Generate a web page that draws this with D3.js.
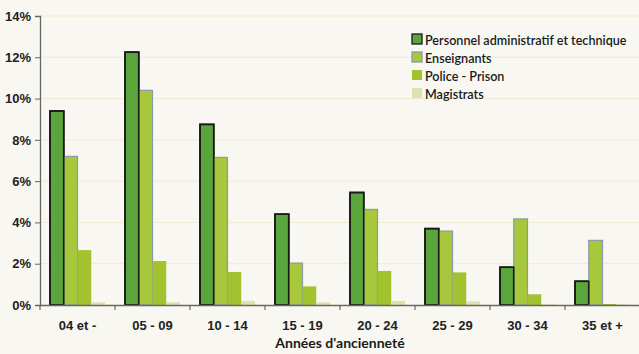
<!DOCTYPE html>
<html>
<head>
<meta charset="utf-8">
<script src="https://cdn.jsdelivr.net/npm/d3@7"></script>
<style>
  body { margin: 0; background: #f8f7f1; }
  svg { display: block; font-family: Lato, "Liberation Sans", sans-serif; }
</style>
</head>
<body>
<svg id="chart" width="639" height="354"></svg>
<script>
// categories (x axis) and series
const categories = ["04 et -", "05 - 09", "10 - 14", "15 - 19", "20 - 24", "25 - 29", "30 - 34", "35 et +"];
const seriesNames = ["Personnel administratif et technique", "Enseignants", "Police - Prison", "Magistrats"];
const personnelAdm = [9.4, 12.25, 8.75, 4.4, 5.45, 3.7, 1.83, 1.15];
const enseignants = [7.2, 10.4, 7.15, 2.03, 4.63, 3.58, 4.17, 3.13];
const policePrison = [2.66, 2.13, 1.6, 0.9, 1.65, 1.58, 0.52, 0.05];
const magistrats = [0.13, 0.13, 0.2, 0.13, 0.2, 0.18, 0.03, 0.03];
const yTicks = [0, 2, 4, 6, 8, 10, 12, 14];

const allSeries = [personnelAdm, enseignants, policePrison, magistrats];
const fills = ["#5aa63c", "#a6c83a", "#a2c230", "#dde3ae"];
const strokes = ["#1a1a1a", "#8a9aa8", "none", "none"];

const svg = d3.select("#chart");
const margin = { top: 16, right: -1, bottom: 49, left: 40 };
const width = 639, height = 354;

const x = d3.scaleBand().domain(categories).range([margin.left, width - margin.right]).paddingInner(0).paddingOuter(0);
const xs = d3.scaleBand().domain(d3.range(4)).range([10, x.bandwidth() - 10]);
const y = d3.scaleLinear().domain([0, 14]).range([height - margin.bottom, margin.top]);

// faint grid
svg.append("g")
  .selectAll("line")
  .data(yTicks.filter(d => d > 0))
  .join("line")
  .attr("x1", margin.left).attr("x2", width)
  .attr("y1", d => y(d)).attr("y2", d => y(d))
  .attr("stroke", "#eeebd0")
  .attr("stroke-width", 1);

// bars
const groups = svg.append("g")
  .selectAll("g")
  .data(categories)
  .join("g")
  .attr("transform", d => `translate(${x(d)},0)`);

groups.selectAll("rect")
  .data((c, i) => allSeries.map((s, k) => ({ k, v: s[i] })))
  .join("rect")
  .attr("x", d => xs(d.k))
  .attr("y", d => y(d.v))
  .attr("width", xs.bandwidth())
  .attr("height", d => y(0) - y(d.v))
  .attr("fill", d => fills[d.k])
  .attr("stroke", d => strokes[d.k])
  .attr("stroke-width", d => d.k === 0 ? 1.6 : 1.2);

// redraw personnel outline on top so the black edge shows
groups.selectAll("rect.pat")
  .data((c, i) => [{ v: personnelAdm[i] }])
  .join("rect")
  .attr("class", "pat")
  .attr("x", xs(0))
  .attr("y", d => y(d.v))
  .attr("width", xs.bandwidth())
  .attr("height", d => y(0) - y(d.v))
  .attr("fill", "none")
  .attr("stroke", "#1a1a1a")
  .attr("stroke-width", 1.6);

// axes
const xAxis = svg.append("g")
  .attr("transform", `translate(0,${y(0)})`)
  .call(d3.axisBottom(x).tickSize(0).tickPadding(16));
xAxis.select(".domain").attr("stroke", "#666").attr("stroke-width", 1.3);
xAxis.selectAll("text").attr("font-size", 13).attr("font-weight", 600).attr("fill", "#222");

// x boundary ticks
svg.append("g")
  .selectAll("line")
  .data(categories.concat(["end"]))
  .join("line")
  .attr("x1", (d, i) => margin.left + i * x.bandwidth())
  .attr("x2", (d, i) => margin.left + i * x.bandwidth())
  .attr("y1", y(0)).attr("y2", y(0) + 5)
  .attr("stroke", "#666").attr("stroke-width", 1.2);

const yAxis = svg.append("g")
  .attr("transform", `translate(${margin.left},0)`)
  .call(d3.axisLeft(y).tickValues(yTicks).tickFormat(d => d + "%").tickSize(5).tickPadding(4));
yAxis.select(".domain").attr("stroke", "#666").attr("stroke-width", 1.3);
yAxis.selectAll(".tick line").attr("stroke", "#666");
yAxis.selectAll("text").attr("font-size", 13).attr("font-weight", 600).attr("fill", "#222");

// axis title
svg.append("text")
  .attr("x", 340).attr("y", 348)
  .attr("text-anchor", "middle")
  .attr("font-size", 14).attr("font-weight", 700).attr("fill", "#1a1a1a")
  .text("Années d'ancienneté");

// legend
const legend = svg.append("g").attr("transform", "translate(412,34)");
const li = legend.selectAll("g")
  .data(seriesNames)
  .join("g")
  .attr("transform", (d, i) => `translate(0,${i * 18})`);
li.append("rect")
  .attr("width", 10).attr("height", 10)
  .attr("fill", (d, i) => fills[i])
  .attr("stroke", (d, i) => strokes[i])
  .attr("stroke-width", 1.3);
li.append("text")
  .attr("x", 13).attr("y", 10.5)
  .attr("font-size", 12.6).attr("font-weight", 600).attr("fill", "#1a1a1a")
  .text(d => d);
</script>
</body>
</html>
